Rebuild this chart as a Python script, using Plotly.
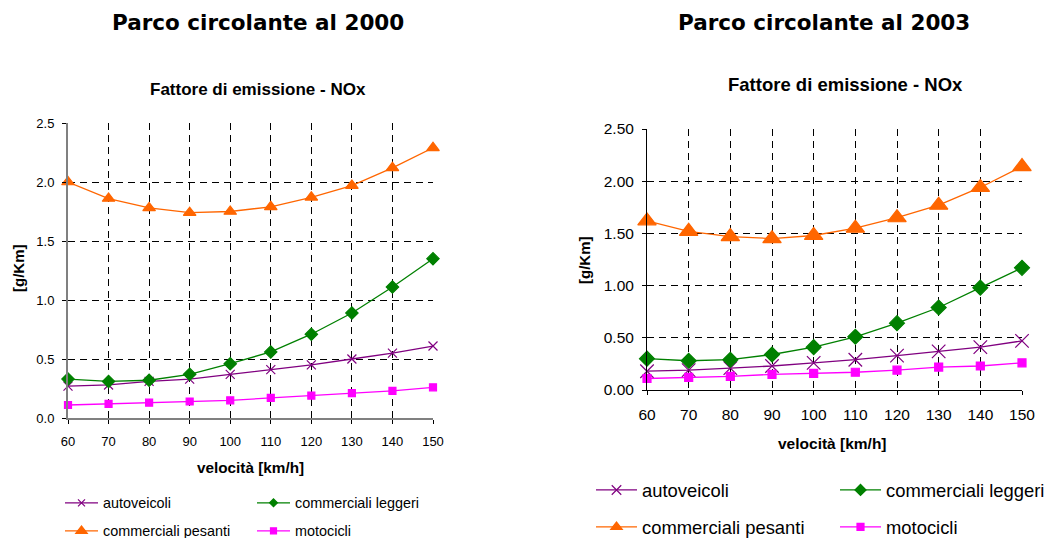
import plotly.graph_objects as go

# Speed classes (km/h)
speeds = [60, 70, 80, 90, 100, 110, 120, 130, 140, 150]

# NOx emission factors [g/Km] - fleet 2000
auto_2000 = [0.27, 0.28, 0.31, 0.33, 0.37, 0.41, 0.45, 0.50, 0.55, 0.61]
leggeri_2000 = [0.33, 0.31, 0.32, 0.37, 0.46, 0.56, 0.71, 0.89, 1.11, 1.35]
pesanti_2000 = [2.00, 1.86, 1.78, 1.74, 1.75, 1.79, 1.87, 1.97, 2.12, 2.29]
moto_2000 = [0.11, 0.12, 0.13, 0.14, 0.15, 0.17, 0.19, 0.21, 0.23, 0.26]

# NOx emission factors [g/Km] - fleet 2003
auto_2003 = [0.18, 0.19, 0.21, 0.23, 0.26, 0.29, 0.33, 0.37, 0.41, 0.47]
leggeri_2003 = [0.30, 0.28, 0.29, 0.34, 0.41, 0.51, 0.64, 0.79, 0.98, 1.17]
pesanti_2003 = [1.62, 1.52, 1.47, 1.45, 1.48, 1.55, 1.65, 1.77, 1.94, 2.14]
moto_2003 = [0.11, 0.12, 0.13, 0.15, 0.16, 0.17, 0.19, 0.22, 0.23, 0.26]

series_names = ["autoveicoli", "commerciali leggeri", "commerciali pesanti", "motocicli"]
colors = ["#800080", "#008000", "#FF6600", "#FF00FF"]
symbols = ["x-thin-open", "diamond", "triangle-up", "square"]

W, H = 1052, 538
FONT = "Liberation Sans, Arial, sans-serif"


def px_x(p):
    return p / W


def px_y(p):
    return 1 - p / H


fig = go.Figure()

panels = [
    dict(data=[auto_2000, leggeri_2000, pesanti_2000, moto_2000], xa="x", ya="y",
         msize=[9, 9.5, 11, 7], lsize=[7, 6, 10, 6], lfont=14.4, itemwidth=33,
         leg_cols=[60, 252], leg_rows=[503, 531], first_legend=1),
    dict(data=[auto_2003, leggeri_2003, pesanti_2003, moto_2003], xa="x2", ya="y2",
         msize=[13.5, 11.5, 16, 8], lsize=[9.5, 8.5, 10, 7], lfont=18.4, itemwidth=41,
         leg_cols=[591, 835], leg_rows=[490, 527], first_legend=5),
]

legend_layouts = {}
for panel in panels:
    for i, (name, vals) in enumerate(zip(series_names, panel["data"])):
        # data series
        fig.add_trace(go.Scatter(
            x=speeds, y=vals, name=name, mode="lines+markers",
            xaxis=panel["xa"], yaxis=panel["ya"], showlegend=False,
            cliponaxis=False,
            line=dict(color=colors[i], width=1.3),
            marker=dict(symbol=symbols[i], size=panel["msize"][i], color=colors[i],
                        line=dict(color=colors[i], width=1.2)),
        ))
        # legend entry
        n = panel["first_legend"] + i
        leg_id = "legend" if n == 1 else f"legend{n}"
        fig.add_trace(go.Scatter(
            x=[None], y=[None], name=name, mode="lines+markers",
            xaxis=panel["xa"], yaxis=panel["ya"], showlegend=True, legend=leg_id,
            line=dict(color=colors[i], width=1.3),
            marker=dict(symbol=symbols[i], size=panel["lsize"][i], color=colors[i],
                        line=dict(color=colors[i], width=1.2)),
        ))
        legend_layouts[leg_id] = dict(
            x=px_x(panel["leg_cols"][i % 2]), xanchor="left",
            y=px_y(panel["leg_rows"][i // 2]), yanchor="middle",
            itemwidth=panel["itemwidth"],
            bgcolor="rgba(0,0,0,0)", borderwidth=0,
            font=dict(family=FONT, size=panel["lfont"], color="#000000"),
        )

fig.update_layout(**legend_layouts)

grid_common = dict(
    showgrid=True, gridcolor="#000000", gridwidth=1, griddash="7px,5px",
    zeroline=False, showline=True, ticks="outside", ticklen=4, tickcolor="#000000",
)

fig.update_layout(
    width=W, height=H, autosize=False,
    margin=dict(l=0, r=0, t=0, b=0, autoexpand=False),
    paper_bgcolor="white", plot_bgcolor="white",
    xaxis=dict(domain=[px_x(68), px_x(433)], range=[60, 150], tickmode="array",
               tickvals=speeds, anchor="y", linecolor="#808080", linewidth=2,
               ticklabelstandoff=6,
               tickfont=dict(family=FONT, size=13, color="#000000"), **grid_common),
    yaxis=dict(domain=[px_y(418), px_y(123)], range=[0, 2.5], dtick=0.5, tickformat=".1f",
               anchor="x", linecolor="#808080", linewidth=2, ticklabelstandoff=5,
               tickfont=dict(family=FONT, size=13, color="#000000"), **grid_common),
    xaxis2=dict(domain=[px_x(647), px_x(1022)], range=[60, 150], tickmode="array",
                tickvals=speeds, anchor="y2", linecolor="#000000", linewidth=1,
                ticklabelstandoff=6,
                tickfont=dict(family=FONT, size=15.5, color="#000000"), **grid_common),
    yaxis2=dict(domain=[px_y(390), px_y(129)], range=[0, 2.5], dtick=0.5, tickformat=".2f",
                anchor="x2", linecolor="#000000", linewidth=1, ticklabelstandoff=5,
                tickfont=dict(family=FONT, size=15.5, color="#000000"), **grid_common),
)


def label(text, x, y, size, angle=0, family=FONT):
    fig.add_annotation(text=text, x=px_x(x), y=px_y(y), xref="paper", yref="paper",
                       showarrow=False, textangle=angle, xanchor="center", yanchor="middle",
                       font=dict(family=family, size=size, color="#000000", weight="bold"))


TITLE_FONT = "DejaVu Sans, Verdana, sans-serif"
label("Parco circolante al 2000", 258, 23, 21.5, family=TITLE_FONT)
label("Parco circolante al 2003", 824, 23, 21.5, family=TITLE_FONT)
label("Fattore di emissione - NOx", 257.5, 89, 17)
label("Fattore di emissione - NOx", 845, 84, 18.5)
label("[g/Km]", 18, 268, 15, angle=-90)
label("[g/Km]", 584, 260, 15, angle=-90)
label("velocità [km/h]", 250, 467, 15.3)
label("velocità [km/h]", 832, 443, 15.5)

fig.write_html("out.html")
